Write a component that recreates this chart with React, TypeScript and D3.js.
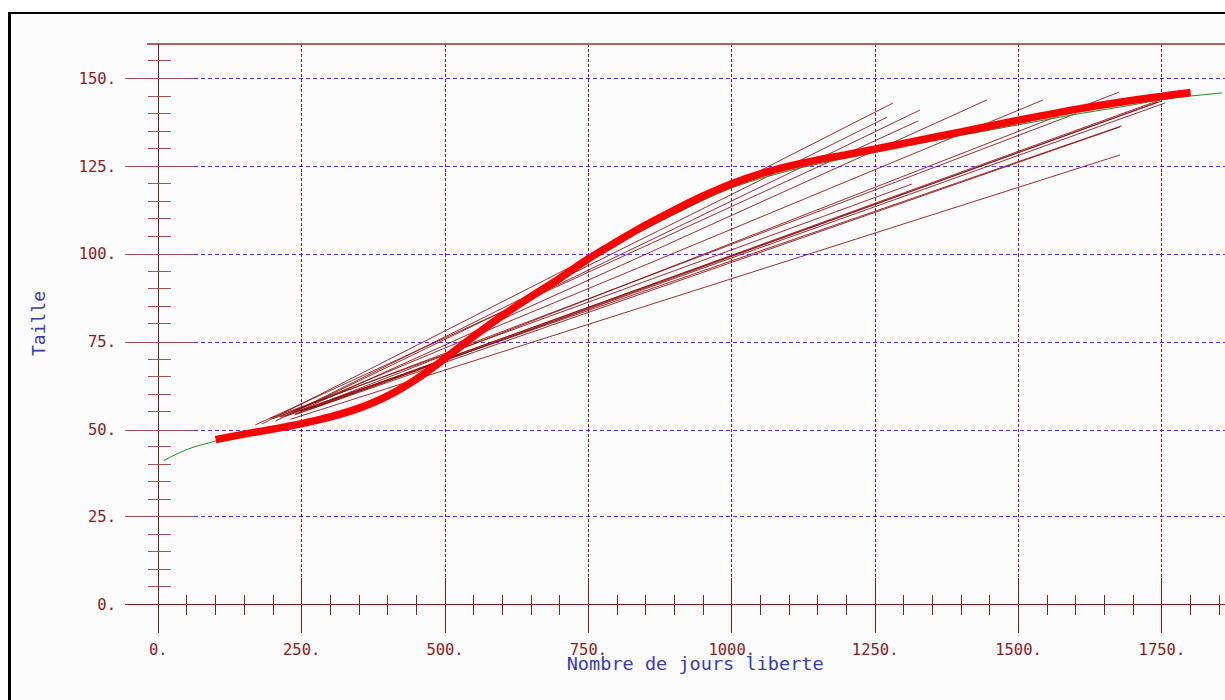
import React from "react";
import * as d3 from "d3";

// ---- data ----
const xMajorTicks = [0, 250, 500, 750, 1000, 1250, 1500, 1750];
const yMajorTicks = [0, 25, 50, 75, 100, 125, 150];
const xLabel = "Nombre de jours liberte";
const yLabel = "Taille";

// fitted growth curve (red)
const redDays = [100, 150, 200, 250, 300, 350, 400, 450, 500, 550, 600, 650, 700, 750, 800, 850, 900, 950, 1000, 1050, 1100, 1150, 1200, 1300, 1400, 1500, 1600, 1700, 1800];
const redSize = [47.0, 48.6, 50.0, 51.6, 53.5, 56.0, 59.5, 64.3, 70.2, 76.5, 82.4, 87.8, 93.0, 98.6, 103.5, 108.2, 112.5, 116.5, 120.0, 122.8, 125.0, 126.8, 128.3, 131.5, 134.8, 138.1, 141.2, 143.8, 146.0];

// second curve (green)
const greenDays = [10, 50, 100, 150, 200, 250, 290, 350, 400, 450, 500, 600, 700, 800, 900, 1000, 1100, 1200, 1300, 1400, 1500, 1600, 1700, 1750, 1800, 1855];
const greenSize = [41.1, 44.2, 46.6, 48.4, 49.8, 51.6, 54.0, 56.0, 59.4, 64.2, 70.0, 82.2, 92.8, 103.0, 111.3, 118.8, 123.7, 127.3, 130.6, 133.8, 136.8, 139.8, 142.5, 144.0, 145.0, 145.9];

// individual tag-recapture segments: release day/size -> recapture day/size
const relDay = [181, 204, 230, 169, 247, 212, 247, 238, 256, 221, 265, 212, 238, 230, 195, 200];
const relSize = [51.5, 52.3, 54.3, 51.2, 55.3, 53.6, 55.0, 54.3, 55.5, 53.6, 55.7, 53.4, 54.1, 52.8, 53.1, 53.0];
const recDay = [1281, 1271, 1328, 1325, 1445, 1543, 1675, 1755, 1747, 1750, 1743, 1680, 1677, 1677, 1314, 1600];
const recSize = [143.0, 139.0, 141.0, 137.9, 143.9, 143.9, 146.1, 143.0, 143.9, 143.6, 143.3, 136.5, 136.2, 128.2, 119.9, 140.0];

const W = 1225;
const H = 700;
const maroon = "#8b1a1a";
const blue = "#3a3aff";

export default function App() {
  const x = d3.scaleLinear().domain([0, 1850]).range([158.3, 158.3 + 0.5735 * 1850]);
  const y = d3.scaleLinear().domain([0, 150]).range([604.5, 78.5]);
  const px = (v: number) => Math.round(v - 0.5) + 0.5;
  const pxEven = (v: number) => Math.round(v / 2) * 2 + 0.5;

  const yTop = px(y(160));
  const yAxis = px(y(0));
  const xAxis = px(x(0));

  const xMinor = d3.range(50, 1851, 50).filter((v) => v % 250 !== 0);
  const yMinor = d3.range(5, 156, 5).filter((v) => v % 25 !== 0);

  const line = d3
    .line<[number, number]>()
    .x((d) => x(d[0]))
    .y((d) => y(d[1]))
    .curve(d3.curveMonotoneX);

  const redPts = redDays.map((d, i) => [d, redSize[i]] as [number, number]);
  const greenPts = greenDays.map((d, i) => [d, greenSize[i]] as [number, number]);

  const mono = "'DejaVu Sans Mono', 'Liberation Mono', monospace";

  return (
    <svg width={W} height={H} style={{ position: "absolute", left: 0, top: 0 }}>
      <rect x={0} y={0} width={W} height={H} fill="#ffffff" />
      <rect x={9} y={13} width={W} height={H} fill="#fcfcfc" />
      {/* frame */}
      <line x1={9.5} y1={12} x2={9.5} y2={H} stroke="#000" strokeWidth={3} />
      <line x1={8} y1={13} x2={W} y2={13} stroke="#000" strokeWidth={2} />

      <g shapeRendering="crispEdges">
        {/* horizontal blue grid */}
        {yMajorTicks.filter((v) => v > 0).map((v) => (
          <line key={"hg" + v} x1={xAxis + 35} x2={W} y1={pxEven(y(v))} y2={pxEven(y(v))} stroke={blue} strokeWidth={1} strokeDasharray="4,3" />
        ))}
        {/* vertical maroon grid */}
        {xMajorTicks.filter((v) => v > 0).map((v) => (
          <line key={"vg" + v} x1={px(x(v))} x2={px(x(v))} y1={yTop} y2={yAxis - 27} stroke={maroon} strokeWidth={1} strokeDasharray="3,2" />
        ))}

        {/* top line */}
        <line x1={147} x2={W} y1={yTop} y2={yTop} stroke="#b06060" strokeWidth={2} />

        {/* y axis */}
        <line x1={xAxis} x2={xAxis} y1={yTop} y2={yAxis + 28} stroke={maroon} strokeWidth={1} />
        {yMinor.map((v) => (
          <line key={"ym" + v} x1={xAxis - 11} x2={xAxis + 12} y1={px(y(v))} y2={px(y(v))} stroke="#a85050" strokeWidth={1} />
        ))}
        {yMajorTicks.map((v) => (
          <line key={"yM" + v} x1={xAxis - 34} x2={xAxis + 35} y1={pxEven(y(v))} y2={pxEven(y(v))} stroke="#a85050" strokeWidth={1} />
        ))}

        {/* x axis */}
        <line x1={xAxis - 34} x2={W} y1={yAxis} y2={yAxis} stroke={maroon} strokeWidth={1} />
        {xMinor.map((v) => (
          <line key={"xm" + v} x1={px(x(v))} x2={px(x(v))} y1={yAxis - 10} y2={yAxis + 10} stroke={maroon} strokeWidth={1} />
        ))}
        {xMajorTicks.map((v) => (
          <line key={"xM" + v} x1={px(x(v))} x2={px(x(v))} y1={yAxis - 27} y2={yAxis + 28} stroke={maroon} strokeWidth={1} />
        ))}
      </g>

      {yMajorTicks.map((v) => (
        <text key={"yl" + v} x={116} y={y(v) + 5.5} textAnchor="end" fontFamily={mono} fontSize={15.5} fill={maroon}>
          {v + "."}
        </text>
      ))}
      {xMajorTicks.map((v) => (
        <text key={"xl" + v} x={x(v)} y={655} textAnchor="middle" fontFamily={mono} fontSize={15.5} fill={maroon}>
          {v + "."}
        </text>
      ))}

      {/* axis titles */}
      <text x={566.7} y={670} fontFamily={mono} fontSize={17} fill="#3a3aa8" textLength={257} lengthAdjust="spacingAndGlyphs">
        {xLabel}
      </text>
      <text
        transform={`translate(45, 356) rotate(-90)`}
        fontFamily={mono}
        fontSize={18}
        fill="#3a3aa8"
        textLength={65}
        lengthAdjust="spacingAndGlyphs"
      >
        {yLabel}
      </text>

      {/* segments */}
      {relDay.map((d, i) => (
        <line
          key={"seg" + i}
          x1={x(d)}
          y1={y(relSize[i])}
          x2={x(recDay[i])}
          y2={y(recSize[i])}
          stroke="#8b0a0a"
          strokeWidth={1}
          strokeOpacity={0.85}
        />
      ))}

      {/* green curve */}
      <path d={line(greenPts) || ""} fill="none" stroke="#1f8f1f" strokeWidth={1} />
      {/* red curve */}
      <path d={line(redPts) || ""} fill="none" stroke="#ff0000" strokeWidth={7.5} />
    </svg>
  );
}
